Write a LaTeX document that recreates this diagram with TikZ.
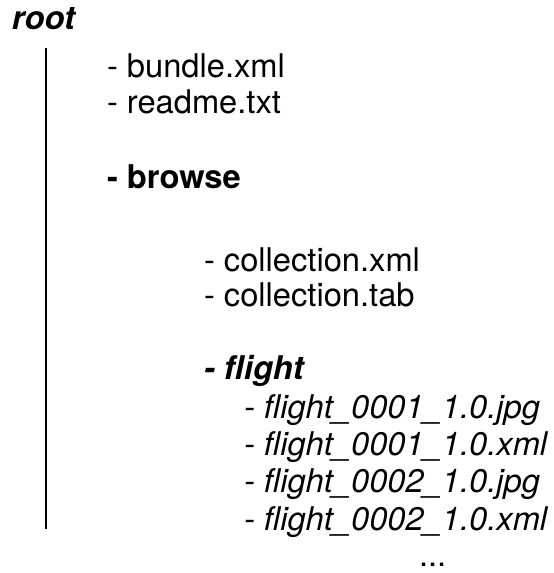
\documentclass[tikz,border=0pt]{standalone}
\usepackage{fontspec}
\setmainfont{TeX Gyre Heros}
\begin{document}
\begin{tikzpicture}[x=0.75pt,y=-0.75pt,
  txt/.style={anchor=base west, inner sep=0pt, outer sep=0pt, font=\fontsize{24.5}{28}\selectfont},
  bolditem/.style={txt, font=\fontsize{24.5}{28}\selectfont\bfseries},
  bolditalic/.style={txt, font=\fontsize{24.5}{28}\selectfont\bfseries\itshape},
  italicitem/.style={txt, font=\fontsize{24.5}{28}\selectfont\itshape},
  trunk/.style={line width=1.9pt, black}]
\useasboundingbox (0,0) rectangle (553,573);
\node[bolditalic] (root) at (12,30) {root};
\coordinate (ltop) at (46,48);
\coordinate (lbot) at (46,529);
\draw[trunk] (ltop) -- (lbot);
\node[txt] (bundle) at (107,78) {- bundle.xml};
\node[txt] (readme) at (107,114) {- readme.txt};
\node[bolditem] (browse) at (107,189) {- browse};
\node[txt] (colxml) at (204,271) {- collection.xml};
\node[txt] (coltab) at (204,306) {- collection.tab};
\node[bolditalic] (flight) at (204,379) {- flight};
\node[italicitem] (f1) at (244,418) {- flight\_0001\_1.0.jpg};
\node[italicitem] (f2) at (244,455) {- flight\_0001\_1.0.xml};
\node[italicitem] (f3) at (244,492) {- flight\_0002\_1.0.jpg};
\node[italicitem] (f4) at (244,530) {- flight\_0002\_1.0.xml};
\node[txt] (dots) at (419,566) {...};
\end{tikzpicture}
\end{document}
